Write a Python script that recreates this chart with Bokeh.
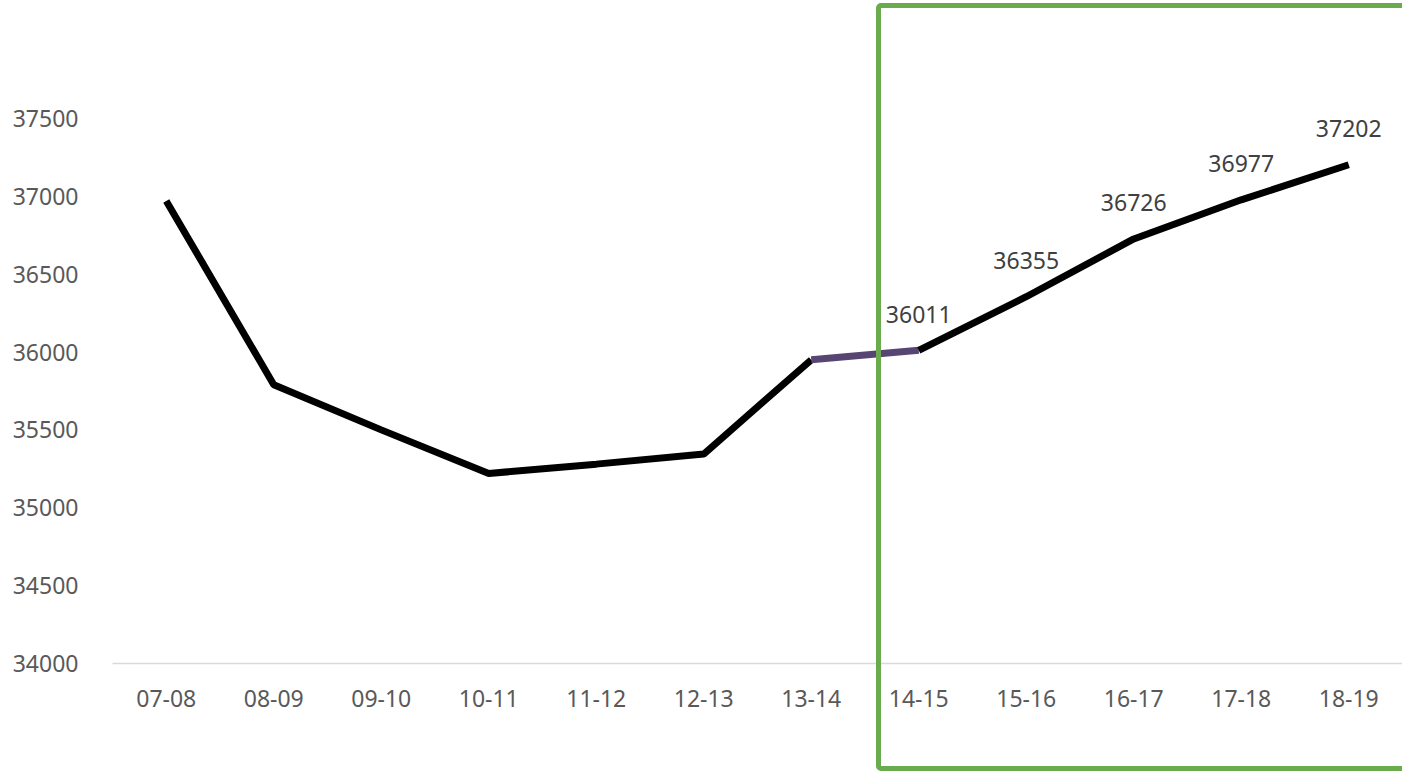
from bokeh.plotting import figure
from bokeh.models import Range1d, FixedTicker, ColumnDataSource, LabelSet, InlineStyleSheet
from bokeh.core.properties import value
from bokeh.embed import file_html
from bokeh.resources import INLINE

# School years and enrolment figures
years = ["07-08", "08-09", "09-10", "10-11", "11-12", "12-13",
         "13-14", "14-15", "15-16", "16-17", "17-18", "18-19"]
values = [36970, 35790, 35500, 35220, 35280, 35345,
          35950, 36011, 36355, 36726, 36977, 37202]
y_ticks = [34000, 34500, 35000, 35500, 36000, 36500, 37000, 37500]

# First year of the projected period (labelled and boxed)
proj_start = years.index("14-15")

FONT = "Noto Sans"
W, H = 1402, 771
LEFT, TOP, BOTTOM = 112, 40, 108
band = (W - LEFT) / len(years)

p = figure(
    x_range=years,
    y_range=Range1d(34000, 38000),
    width=W, height=H,
    output_backend="svg", toolbar_location=None,
    min_border_left=LEFT, min_border_right=0,
    min_border_top=TOP, min_border_bottom=BOTTOM,
)
p.outline_line_color = None
p.xgrid.visible = False
p.ygrid.visible = False
p.background_fill_color = "white"
p.border_fill_color = "white"

# y axis: labels only
p.yaxis.ticker = FixedTicker(ticks=y_ticks)
p.yaxis.axis_line_color = None
p.yaxis.major_tick_line_color = None
p.yaxis.minor_tick_line_color = None
p.yaxis.major_label_standoff = 28
p.yaxis.major_label_text_font = FONT
p.yaxis.major_label_text_font_size = "23px"
p.yaxis.major_label_text_color = "#595959"

# x axis: thin light baseline
p.xaxis.axis_line_color = "#d9d9d9"
p.xaxis.axis_line_width = 1.5
p.xaxis.major_tick_line_color = None
p.xaxis.minor_tick_line_color = None
p.xaxis.major_label_standoff = 20
p.xaxis.major_label_text_font = FONT
p.xaxis.major_label_text_font_size = "23px"
p.xaxis.major_label_text_color = "#595959"

# historic part, bridge segment, projected part
p.line(years[:proj_start], values[:proj_start], line_color="black", line_width=7)
p.line(years[proj_start - 1:proj_start + 1], values[proj_start - 1:proj_start + 1],
       line_color="#574673", line_width=7)
p.line(years[proj_start:], values[proj_start:], line_color="black", line_width=7)

# value labels on the projected years
lab_src = ColumnDataSource(dict(
    x=years[proj_start:], y=values[proj_start:],
    t=[str(v) for v in values[proj_start:]],
))
p.add_layout(LabelSet(
    x="x", y="y", text="t", source=lab_src,
    y_offset=36, text_align="center", text_baseline="middle",
    text_font=value(FONT), text_font_size="23px", text_color="#404040",
))

# green frame around the projection period; it reaches past the plot
# area over the axis labels, so it is drawn as an overlay on the page
box_left = LEFT + (proj_start + 0.5 - 0.37) * band - 2.5
p.stylesheets = [InlineStyleSheet(css=f"""
:host {{ position: relative; }}
:host::after {{
  content: "";
  position: absolute;
  left: {box_left:.1f}px;
  top: 3px;
  width: {W - box_left + 20:.1f}px;
  height: 768px;
  box-sizing: border-box;
  border: 5px solid #6aab4e;
  border-radius: 5px;
  pointer-events: none;
  z-index: 10;
}}
""")]

open("out.html", "w").write(file_html(p, INLINE))
